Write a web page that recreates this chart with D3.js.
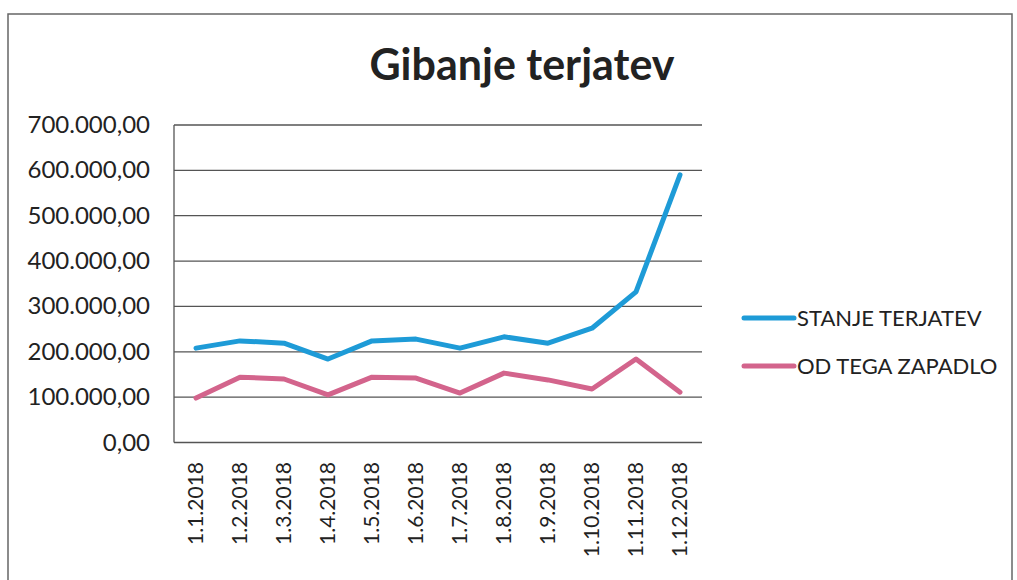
<!DOCTYPE html>
<html>
<head>
<meta charset="utf-8">
<script src="https://cdn.jsdelivr.net/npm/d3@7"></script>
<style>
  body { margin: 0; background: #fff; }
  svg { font-family: Lato, "Open Sans", sans-serif; }
</style>
</head>
<body>
<div id="chart"></div>
<script>
// data
const months = ["1.1.2018", "1.2.2018", "1.3.2018", "1.4.2018", "1.5.2018", "1.6.2018",
                "1.7.2018", "1.8.2018", "1.9.2018", "1.10.2018", "1.11.2018", "1.12.2018"];
const stanje = [208000, 224000, 219000, 184000, 224000, 228000, 208000, 233000, 219000, 252000, 332000, 590000];
const zapadlo = [98000, 144000, 140000, 105000, 144000, 142000, 109000, 153000, 138000, 118000, 184000, 111000];
const yTicks = [0, 100000, 200000, 300000, 400000, 500000, 600000, 700000];

const series = [
    { name: "STANJE TERJATEV", values: stanje, color: "#1e9bd7" },
    { name: "OD TEGA ZAPADLO", values: zapadlo, color: "#d3648c" }
];

const W = 1017, H = 580;
const plot = { left: 174, right: 702, top: 125, bottom: 442.5 };

const svg = d3.select("#chart").append("svg")
    .attr("width", W)
    .attr("height", H);

// outer frame of the scanned chart
svg.append("rect")
    .attr("x", 8).attr("y", 14)
    .attr("width", 1004).attr("height", 600)
    .attr("fill", "none")
    .attr("stroke", "#666")
    .attr("stroke-width", 1.5);

// title
svg.append("text")
    .attr("x", 522)
    .attr("y", 80)
    .attr("text-anchor", "middle")
    .style("font-size", "43px")
    .style("font-weight", "bold")
    .style("fill", "#222")
    .text("Gibanje terjatev");

const x = d3.scaleBand()
    .domain(months)
    .range([plot.left, plot.right]);

const y = d3.scaleLinear()
    .domain([0, 700000])
    .range([plot.bottom, plot.top]);

const fmt = d3.formatLocale({ decimal: ",", thousands: ".", grouping: [3], currency: ["", ""] }).format(",.2f");

// gridlines
svg.append("g")
    .selectAll("line")
    .data(yTicks)
    .enter()
    .append("line")
    .attr("x1", plot.left)
    .attr("x2", plot.right)
    .attr("y1", d => y(d))
    .attr("y2", d => y(d))
    .attr("stroke", "#555")
    .attr("stroke-width", 1.3);

// left axis line
svg.append("line")
    .attr("x1", plot.left).attr("x2", plot.left)
    .attr("y1", plot.top).attr("y2", plot.bottom)
    .attr("stroke", "#555")
    .attr("stroke-width", 1.3);

// y labels
svg.append("g")
    .selectAll("text")
    .data(yTicks)
    .enter()
    .append("text")
    .attr("x", 150)
    .attr("y", d => y(d) + 8)
    .attr("text-anchor", "end")
    .style("font-size", "24px")
    .style("fill", "#222")
    .text(d => fmt(d));

// x labels, rotated
svg.append("g")
    .selectAll("text")
    .data(months)
    .enter()
    .append("text")
    .attr("transform", d => "translate(" + (x(d) + x.bandwidth() / 2 + 7) + "," + 462 + ") rotate(-90)")
    .attr("text-anchor", "end")
    .style("font-size", "21px")
    .style("fill", "#222")
    .text(d => d);

// lines
const line = d3.line()
    .x((d, i) => x(months[i]) + x.bandwidth() / 2)
    .y(d => y(d));

svg.selectAll(".series")
    .data(series)
    .enter()
    .append("path")
    .attr("class", "series")
    .attr("d", d => line(d.values))
    .attr("fill", "none")
    .attr("stroke", d => d.color)
    .attr("stroke-width", 5)
    .attr("stroke-linejoin", "round")
    .attr("stroke-linecap", "round");

// legend
const legend = svg.append("g")
    .attr("transform", "translate(744,318)");

legend.selectAll("line")
    .data(series)
    .enter()
    .append("line")
    .attr("x1", 0).attr("x2", 50)
    .attr("y1", (d, i) => i * 48)
    .attr("y2", (d, i) => i * 48)
    .attr("stroke", d => d.color)
    .attr("stroke-width", 5)
    .attr("stroke-linecap", "round");

legend.selectAll("text")
    .data(series)
    .enter()
    .append("text")
    .attr("x", 53)
    .attr("y", (d, i) => i * 48 + 8)
    .style("font-size", "22px")
    .style("fill", "#222")
    .text(d => d.name);
</script>
</body>
</html>
